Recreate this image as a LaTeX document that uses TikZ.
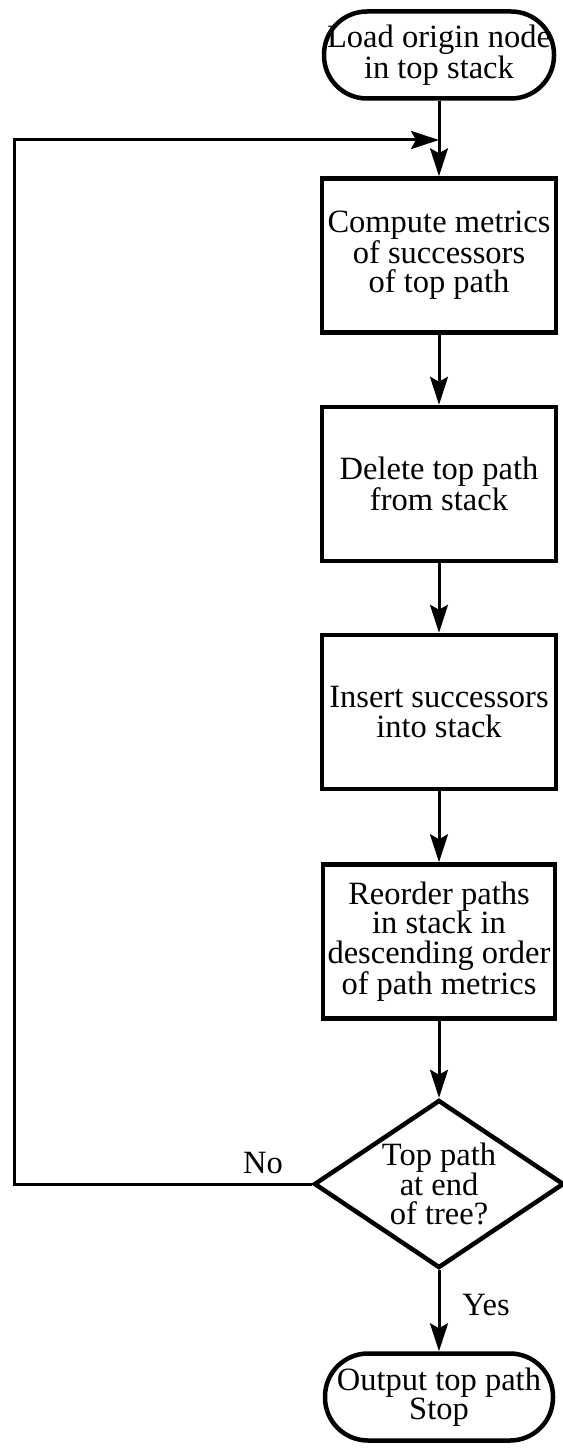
\documentclass[tikz,border=0pt]{standalone}
\usepackage{fontspec}
\setmainfont{Liberation Serif}
\usetikzlibrary{shapes.geometric, arrows.meta}

\begin{document}
\begin{tikzpicture}[x=1pt, y=-1pt,
  every node/.style={font=\fontsize{32.5}{29.5}\selectfont, align=center},
  proc/.style={draw, line width=4.5pt, minimum width=234pt, minimum height=154pt, inner sep=0pt},
  term/.style={draw, line width=4.5pt, rounded corners=43pt, minimum height=87pt, inner sep=0pt},
  decision/.style={draw, diamond, line width=4.5pt, minimum width=250pt, minimum height=168pt, aspect=1.49, inner sep=0pt},
  flow/.style={line width=3pt, -{Stealth[length=28pt, width=18pt, inset=5pt]}},
  lbl/.style={inner sep=0pt}
]
\useasboundingbox (0,0) rectangle (562,1450);

% main column of the flowchart
\node[term, minimum width=230pt] (start) at (439,55) {Load origin node\\in top stack};
\node[proc] (metrics) at (439,255.5) {Compute metrics\\of successors\\of top path};
\node[proc] (delete) at (439,484) {Delete top path\\from stack};
\node[proc] (insert) at (439,712) {Insert successors\\into stack};
\node[proc, minimum width=232pt] (reorder) at (439,941.5) {Reorder paths\\in stack in\\descending order\\of path metrics};
\node[decision] (test) at (439,1184) {Top path\\at end\\of tree?};
\node[term, minimum width=228pt] (stop) at (439,1397) {Output top path\\Stop};

% loop-back corner points
\coordinate (join) at (439,140);
\coordinate (back) at (14,1184);

\draw[flow] (start.south) -- (metrics.north);
\draw[flow] (metrics.south) -- (delete.north);
\draw[flow] (delete.south) -- (insert.north);
\draw[flow] (insert.south) -- (reorder.north);
\draw[flow] (reorder.south) -- (test.north);
\draw[flow] (test.south) -- (stop.north);
\draw[flow] (test.west) -- (back) -- (back |- join) -- (join);

% branch labels
\node[lbl] (no) at (263,1163) {No};
\node[lbl] (yes) at (486,1305) {Yes};
\end{tikzpicture}
\end{document}
